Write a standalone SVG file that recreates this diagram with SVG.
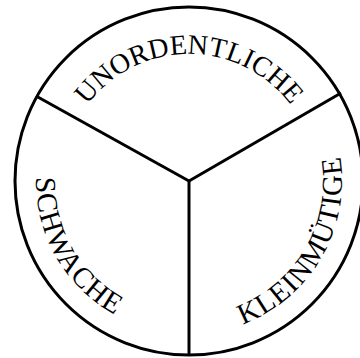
<svg xmlns="http://www.w3.org/2000/svg" xmlns:xlink="http://www.w3.org/1999/xlink" width="360" height="358" viewBox="0 0 360 358">
<style>
.ring{fill:#fff;stroke:#000;stroke-width:3}
.div{stroke:#000;stroke-width:3;fill:none;stroke-linecap:butt}
.lbl{font-family:"Liberation Serif","Times New Roman",serif;font-size:28px;fill:#000}
.bot{font-size:29px;letter-spacing:1px}
</style>
<defs>
<path id="topArc" d="M 79 244.5 A 127 127 0 1 1 299 244.5"/>
<path id="botArc" d="M 56.5 104.5 A 153 153 0 1 0 321.5 104.5"/>
</defs>
<rect width="360" height="358" fill="#fff"/>
<g id="ring"><circle class="ring" cx="189" cy="181" r="174"/></g>
<g id="connectors">
<line class="div" x1="189" y1="181" x2="36" y2="96"/>
<line class="div" x1="189" y1="181" x2="341" y2="93"/>
<line class="div" x1="189" y1="181" x2="189" y2="355"/>
</g>
<g id="unordentliche"><text class="lbl" text-anchor="middle"><textPath xlink:href="#topArc" startOffset="50%">UNORDENTLICHE</textPath></text></g>
<g id="schwache"><text class="lbl bot" text-anchor="middle"><textPath xlink:href="#botArc" startOffset="25%">SCHWACHE</textPath></text></g>
<g id="kleinmuetige"><text class="lbl bot" text-anchor="middle"><textPath xlink:href="#botArc" startOffset="75%">KLEINMÜTIGE</textPath></text></g>
</svg>
